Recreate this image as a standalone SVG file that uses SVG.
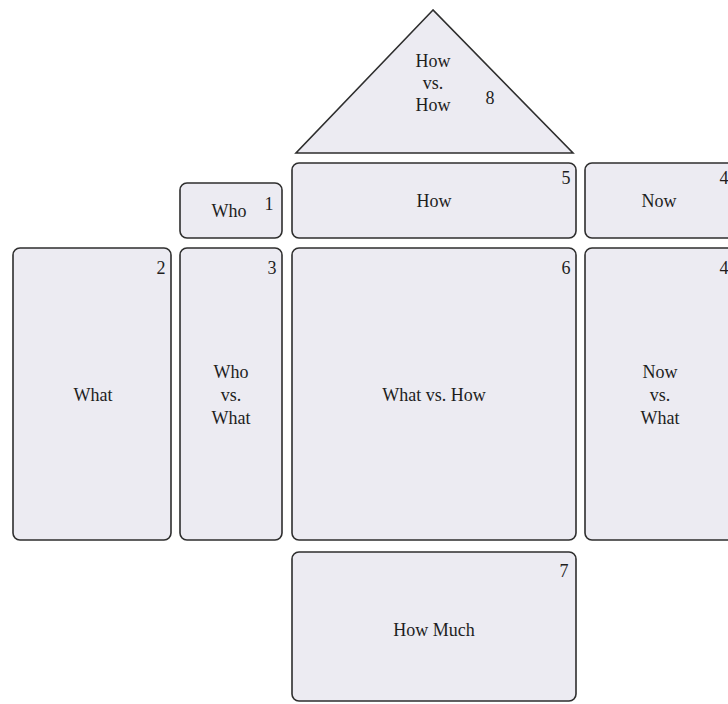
<svg xmlns="http://www.w3.org/2000/svg" width="728" height="704" viewBox="0 0 728 704">
<style>
.b{fill:#ecebf2;stroke:#2e2e2e;stroke-width:1.6}
.t{font-family:"Liberation Serif","Times New Roman",serif;font-size:18px;fill:#1e1e1e;text-anchor:middle}
.n{font-family:"Liberation Serif","Times New Roman",serif;font-size:18px;fill:#1e1e1e;text-anchor:middle}
</style>
<rect width="728" height="704" fill="#ffffff"/>
<g id="connectors"/>
<g id="n8"><polygon class="b" points="433,10 296,153 573,153"/>
<text class="t" x="433" y="67">How</text><text class="t" x="433" y="89">vs.</text><text class="t" x="433" y="111">How</text><text class="n" x="490" y="104">8</text></g>
<g id="n5"><rect class="b" x="292" y="163" width="284" height="75" rx="7"/><text class="t" x="434" y="207">How</text><text class="n" x="566" y="184">5</text></g>
<g id="n4a"><rect class="b" x="585" y="163" width="160" height="75" rx="7"/><text class="t" x="659" y="207">Now</text><text class="n" x="724" y="184">4</text></g>
<g id="n1"><rect class="b" x="180" y="183" width="102" height="55" rx="7"/><text class="t" x="229" y="217">Who</text><text class="n" x="269" y="210">1</text></g>
<g id="n2"><rect class="b" x="13" y="248" width="158" height="292" rx="7"/><text class="t" x="93" y="401">What</text><text class="n" x="161" y="274">2</text></g>
<g id="n3"><rect class="b" x="180" y="248" width="102" height="292" rx="7"/><text class="t" x="231" y="378">Who</text><text class="t" x="231" y="401">vs.</text><text class="t" x="231" y="424">What</text><text class="n" x="272" y="274">3</text></g>
<g id="n6"><rect class="b" x="292" y="248" width="284" height="292" rx="7"/><text class="t" x="434" y="401">What vs. How</text><text class="n" x="566" y="274">6</text></g>
<g id="n4b"><rect class="b" x="585" y="248" width="160" height="292" rx="7"/><text class="t" x="660" y="378">Now</text><text class="t" x="660" y="401">vs.</text><text class="t" x="660" y="424">What</text><text class="n" x="724" y="274">4</text></g>
<g id="n7"><rect class="b" x="292" y="552" width="284" height="149" rx="7"/><text class="t" x="434" y="636">How Much</text><text class="n" x="564" y="577">7</text></g>
</svg>
